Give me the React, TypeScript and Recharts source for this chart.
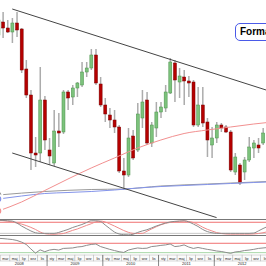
import React from 'react';
import { ComposedChart, Bar, Line, XAxis, YAxis, ReferenceLine } from 'recharts';

const MONTH_NAMES = ['sty', 'lut', 'mar', 'kwi', 'maj', 'cze', 'lip', 'sie', 'wrz', 'paź', 'lis', 'gru'];
const FIRST_YEAR = 2008;
const FIRST_MONTH = 1; // lut 2008

const open = [3150, 3280, 3220, 3180, 3270, 3210, 2810, 2550, 1970, 1970, 2500, 2000, 1870, 2190, 2180, 2580, 2530, 2620, 2650, 2780, 2820, 2950, 2660, 2450, 2350, 2300, 2230, 1790, 1750, 2140, 2000, 2320, 2500, 2070, 2220, 2380, 2420, 2570, 2870, 2680, 2730, 2690, 2680, 2250, 2450, 2280, 2050, 2120, 2250, 2230, 2180, 1780, 1850, 1780, 1900, 2020, 2050, 2070, 2160];
const high = [3400, 3380, 3300, 3320, 3380, 3220, 2900, 2600, 2130, 2830, 2540, 2120, 2400, 2370, 2600, 2600, 2650, 2680, 2880, 2880, 3010, 3010, 2730, 2520, 2420, 2400, 2250, 1920, 2220, 2200, 2470, 2600, 2580, 2280, 2480, 2480, 2650, 2920, 2900, 2820, 2800, 2740, 2700, 2630, 2630, 2320, 2230, 2280, 2270, 2250, 2200, 1970, 1870, 1930, 2130, 2100, 2120, 2220, 2300];
const low = [3030, 3120, 3170, 3070, 3130, 2770, 2520, 1800, 1830, 1880, 2000, 1850, 1840, 2030, 2160, 2400, 2450, 2530, 2630, 2730, 2800, 2650, 2430, 2280, 2220, 2170, 1770, 1600, 1730, 1900, 1980, 2220, 2050, 2030, 2130, 2320, 2380, 2560, 2480, 2520, 2450, 2530, 2230, 2230, 2230, 1930, 1920, 2070, 2180, 2170, 1780, 1750, 1650, 1700, 1880, 1920, 1970, 2050, 2120];
const close = [3300, 3220, 3180, 3270, 3200, 2800, 2550, 1970, 1950, 2500, 2100, 1940, 2190, 2170, 2580, 2520, 2620, 2670, 2780, 2820, 2950, 2670, 2450, 2360, 2300, 2230, 1790, 1750, 2120, 1920, 2360, 2480, 2070, 2250, 2380, 2430, 2580, 2880, 2700, 2740, 2690, 2670, 2250, 2450, 2270, 2100, 2120, 2250, 2220, 2180, 1800, 1930, 1670, 1900, 2030, 2070, 2020, 2170, 2220];

const maRedIdx = [0, 5, 10, 15, 20, 25, 30, 35, 40, 45, 50, 55, 58];
const maRedVal = [1390, 1480, 1595, 1710, 1820, 1920, 2020, 2100, 2165, 2200, 2230, 2260, 2275];
const maBlueIdx = [0, 5, 10, 15, 20, 25, 30, 35, 40, 45, 50, 55, 58];
const maBlueVal = [1510, 1540, 1565, 1575, 1585, 1600, 1620, 1635, 1645, 1655, 1665, 1675, 1680];
const maGreyIdx = [0, 10, 20, 27, 35, 45, 58];
const maGreyVal = [1550, 1585, 1605, 1610, 1640, 1660, 1685];

const upperTrendK = [3, 58];
const upperTrendP = [3410, 2595];
const lowerTrendK = [3, 47];
const lowerTrendP = [1970, 1324];

const stochK = [99, 97, 95, 93, 80, 60, 43, 27, 15, 11, 11, 11, 11, 17, 27, 37, 50, 60, 70, 83, 95, 95, 90, 67, 43, 20, 7, 2, 1, 5, 17, 27, 35, 47, 60, 70, 80, 87, 91, 93, 95, 87, 73, 57, 37, 23, 15, 11, 11, 11, 11, 11, 11, 11, 11, 13, 27, 43, 57];
const stochD = [98, 96, 92, 87, 80, 73, 63, 51, 37, 20, 9, 6, 5, 7, 10, 20, 31, 40, 52, 64, 75, 88, 93, 87, 74, 60, 45, 30, 18, 11, 10, 11, 25, 40, 55, 68, 78, 84, 89, 92, 93, 90, 83, 70, 52, 38, 27, 16, 10, 7, 6, 6, 6, 6, 6, 7, 10, 15, 22];
const stochLevels = [85, 11];

const rsiVals = [91, 90, 88, 86, 82, 75, 65, 46, 28, 42, 34, 41, 44, 41, 48, 49, 50, 54, 56, 61, 65, 67, 56, 50, 44, 39, 34, 31, 41, 46, 50, 48, 49, 56, 58, 61, 63, 67, 56, 58, 63, 54, 48, 52, 48, 44, 41, 37, 35, 31, 27, 33, 35, 39, 41, 44, 48, 50, 52];
const rsiLevels = [70, 30];

const N = open.length;
const CHART_W = 274;
const BAND = CHART_W / N;
const X_SHIFT = -3.6;
const FONT = 'Liberation Sans, Arial, sans-serif';

const pick = (idx: number[], val: number[], k: number) => {
  const i = idx.indexOf(k);
  return i >= 0 ? val[i] : null;
};

const data = open.map((o, k) => {
  const mIdx = FIRST_MONTH + k;
  return {
    k,
    o,
    h: high[k],
    l: low[k],
    c: close[k],
    month: MONTH_NAMES[mIdx % 12],
    monthNum: mIdx % 12,
    year: FIRST_YEAR + Math.floor(mIdx / 12),
    maRed: pick(maRedIdx, maRedVal, k),
    maBlue: pick(maBlueIdx, maBlueVal, k),
    maGrey: pick(maGreyIdx, maGreyVal, k),
    stK: stochK[k],
    stD: stochD[k],
    rsi: rsiVals[k],
    none: null as number | null,
  };
});

const monthTicks = data.filter((d) => d.monthNum % 2 === 0).map((d) => d.k);
const yearTicks = data.filter((d) => d.monthNum === 0 || d.monthNum === 6).map((d) => d.k);

const Candle = (props: any) => {
  const { x, y, width, height, payload } = props;
  if (!payload) return null;
  const { o, h, l, c } = payload;
  const cx = x + width / 2;
  const top = Math.min(y, y + height);
  const hgt = Math.abs(height);
  const ratio = h === l ? 0 : hgt / (h - l);
  const bodyTop = top + (h - Math.max(o, c)) * ratio;
  const bodyBot = top + (h - Math.min(o, c)) * ratio;
  const up = c >= o;
  return (
    <g>
      <rect x={cx - 0.75} y={top} width={1.5} height={hgt} fill="#acacac" />
      <rect
        x={cx - 1.5}
        y={bodyTop}
        width={3}
        height={Math.max(1.2, bodyBot - bodyTop)}
        fill={up ? '#7cc27c' : '#b50000'}
        stroke={up ? '#4a924a' : '#7a0000'}
        strokeWidth={0.5}
      />
    </g>
  );
};

const MonthTick = (props: any) => {
  const { x, y, payload } = props;
  const d = data[payload.value];
  if (!d) return null;
  const left = x - BAND / 2;
  return (
    <g>
      <rect x={left} y={y} width={BAND * 2} height={6} fill="#fbfbfb" stroke="#b5b5b5" strokeWidth={0.5} />
      <text x={left + BAND} y={y + 4.5} textAnchor="middle" fontSize={3.6} fill="#222" fontFamily={FONT}>
        {d.month}
      </text>
    </g>
  );
};

const YearTick = (props: any) => {
  const { x, y, payload } = props;
  const d = data[payload.value];
  if (!d) return null;
  const left = x - BAND / 2;
  if (d.monthNum === 0) {
    return <line x1={left} x2={left} y1={y - 6} y2={y + 5} stroke="#6a6a6a" strokeWidth={0.8} />;
  }
  return (
    <text x={left} y={y + 4.2} textAnchor="middle" fontSize={4} fill="#222" fontFamily={FONT}>
      {d.year}
    </text>
  );
};

const M0 = { top: 0, right: 0, bottom: 0, left: 0 };

export default function App() {
  return (
    <div style={{ position: 'fixed', left: 0, top: 0, width: 266, height: 266, overflow: 'hidden', background: '#fff' }}>
      <div style={{ position: 'absolute', left: X_SHIFT, top: 0 }}>
        <ComposedChart width={CHART_W} height={219} data={data} margin={M0}>
          <XAxis dataKey="k" type="category" scale="band" hide />
          <YAxis hide domain={[1310, 3500]} allowDataOverflow type="number" />
          <Line dataKey="maGrey" type="monotone" stroke="#9a9a9a" strokeWidth={1} dot={false} connectNulls isAnimationActive={false} />
          <Line dataKey="maBlue" type="monotone" stroke="#8494ea" strokeWidth={1} dot={false} connectNulls isAnimationActive={false} />
          <Line dataKey="maRed" type="monotone" stroke="#f29090" strokeWidth={1} dot={false} connectNulls isAnimationActive={false} />
          <ReferenceLine
            segment={[{ x: upperTrendK[0], y: upperTrendP[0] }, { x: upperTrendK[1], y: upperTrendP[1] }]}
            stroke="#444"
            strokeWidth={1}
            ifOverflow="visible"
          />
          <ReferenceLine
            segment={[{ x: lowerTrendK[0], y: lowerTrendP[0] }, { x: lowerTrendK[1], y: lowerTrendP[1] }]}
            stroke="#444"
            strokeWidth={1}
            ifOverflow="visible"
          />
          <Bar dataKey={(d: any) => [d.l, d.h]} shape={<Candle />} isAnimationActive={false} />
        </ComposedChart>
      </div>

      <div style={{ position: 'absolute', left: 0, top: 219, width: 266, height: 1.3, background: '#777' }} />

      <div style={{ position: 'absolute', left: X_SHIFT, top: 220 }}>
        <ComposedChart width={CHART_W} height={15} data={data} margin={M0}>
          <XAxis dataKey="k" type="category" scale="band" hide />
          <YAxis hide domain={[0, 100]} allowDataOverflow type="number" />
          <ReferenceLine y={stochLevels[0]} stroke="#f07070" strokeWidth={1} />
          <ReferenceLine y={stochLevels[1]} stroke="#c8c8c8" strokeWidth={1} />
          <Bar dataKey="none" isAnimationActive={false} />
          <Line dataKey="stD" type="monotone" stroke="#f08a8a" strokeWidth={1} dot={false} isAnimationActive={false} />
          <Line dataKey="stK" type="monotone" stroke="#8c8c8c" strokeWidth={1} dot={false} isAnimationActive={false} />
        </ComposedChart>
      </div>

      <div style={{ position: 'absolute', left: 0, top: 235, width: 266, height: 1.3, background: '#777' }} />

      <div style={{ position: 'absolute', left: X_SHIFT, top: 236 }}>
        <ComposedChart width={CHART_W} height={30} data={data} margin={M0}>
          <XAxis
            xAxisId="m"
            dataKey="k"
            type="category"
            scale="band"
            height={6}
            ticks={monthTicks}
            interval={0}
            tickSize={0}
            tickMargin={0}
            axisLine={false}
            tickLine={false}
            tick={<MonthTick />}
          />
          <XAxis
            xAxisId="yr"
            dataKey="k"
            type="category"
            scale="band"
            height={5}
            ticks={yearTicks}
            interval={0}
            tickSize={0}
            tickMargin={0}
            axisLine={false}
            tickLine={false}
            tick={<YearTick />}
          />
          <YAxis hide domain={[20, 101]} allowDataOverflow type="number" />
          <ReferenceLine xAxisId="m" y={rsiLevels[0]} stroke="#f07070" strokeWidth={1} />
          <ReferenceLine xAxisId="m" y={rsiLevels[1]} stroke="#a8d8a8" strokeWidth={1} />
          <Bar xAxisId="m" dataKey="none" isAnimationActive={false} />
          <Line xAxisId="m" dataKey="rsi" type="linear" stroke="#8c8c8c" strokeWidth={1} dot={false} isAnimationActive={false} />
        </ComposedChart>
      </div>

      <div
        style={{
          position: 'absolute',
          left: 235,
          top: 23,
          width: 60,
          height: 15.5,
          border: '1.5px solid #4a5ae8',
          borderRadius: 5,
          background: '#fff',
          fontFamily: FONT,
          fontWeight: 'bold',
          fontSize: 10,
          lineHeight: '15.5px',
          paddingLeft: 4,
          color: '#000',
          whiteSpace: 'nowrap',
        }}
      >
        Formacja
      </div>
    </div>
  );
}
